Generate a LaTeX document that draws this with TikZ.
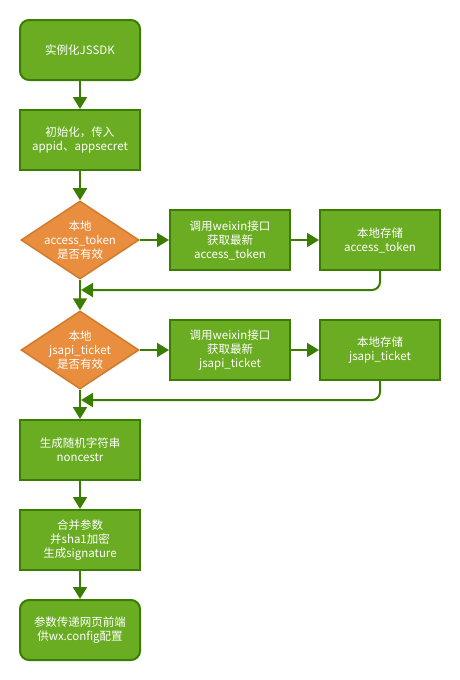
\documentclass[tikz,border=0pt]{standalone}
\usepackage{fontspec}
\setmainfont{Noto Sans CJK SC}
\usetikzlibrary{arrows.meta,shapes.geometric}
\definecolor{gfill}{HTML}{6AAD22}
\definecolor{gline}{HTML}{3B7D00}
\definecolor{ofill}{HTML}{E98E3F}
\definecolor{oline}{HTML}{D27A2C}
\tikzset{
  txt/.style={text=white,align=center,font=\fontsize{11.5}{14}\selectfont,inner sep=0pt},
  box/.style={draw=gline,fill=gfill,line width=2pt,minimum width=120pt,minimum height=60pt,txt},
  rbox/.style={box,rounded corners=9pt},
  dia/.style={draw=oline,fill=ofill,line width=1.5pt,diamond,aspect=1.5,minimum width=118pt,minimum height=78pt,inner sep=0pt},
  arr/.style={draw=gline,line width=2pt,-{Triangle[width=14pt,length=12pt]}},
}
\begin{document}
\begin{tikzpicture}[x=1pt,y=-1pt]
\useasboundingbox (0,0) rectangle (460,680);
\node[rbox] (n1) at (80,50) {实例化JSSDK};
\node[box] (n2) at (80,140) {初始化，传入\\appid、appsecret};
\node[dia,label={[txt]center:本地\\access\_token\\是否有效}] (d1) at (80,240) {};
\node[box] (a1) at (230,240) {调用weixin接口\\获取最新\\access\_token};
\node[box] (a2) at (380,240) {本地存储\\access\_token};
\node[dia,label={[txt]center:本地\\jsapi\_ticket\\是否有效}] (d2) at (80,350) {};
\node[box] (b1) at (230,350) {调用weixin接口\\获取最新\\jsapi\_ticket};
\node[box] (b2) at (380,350) {本地存储\\jsapi\_ticket};
\node[box] (n3) at (80,450) {生成随机字符串\\noncestr};
\node[box] (n4) at (80,540) {合并参数\\并sha1加密\\生成signature};
\node[rbox] (n5) at (80,630) {参数传递网页前端\\供wx.config配置};
\coordinate (j1) at (81,290);
\coordinate (j2) at (81,400);
\draw[arr] (n1) -- (n2);
\draw[arr] (n2) -- (d1);
\draw[arr] (d1) -- (a1);
\draw[arr] (a1) -- (a2);
\draw[arr,rounded corners=8pt] (a2.south) |- (j1);
\draw[arr] (d1) -- (d2);
\draw[arr] (d2) -- (b1);
\draw[arr] (b1) -- (b2);
\draw[arr,rounded corners=8pt] (b2.south) |- (j2);
\draw[arr] (d2) -- (n3);
\draw[arr] (n3) -- (n4);
\draw[arr] (n4) -- (n5);
\end{tikzpicture}
\end{document}
